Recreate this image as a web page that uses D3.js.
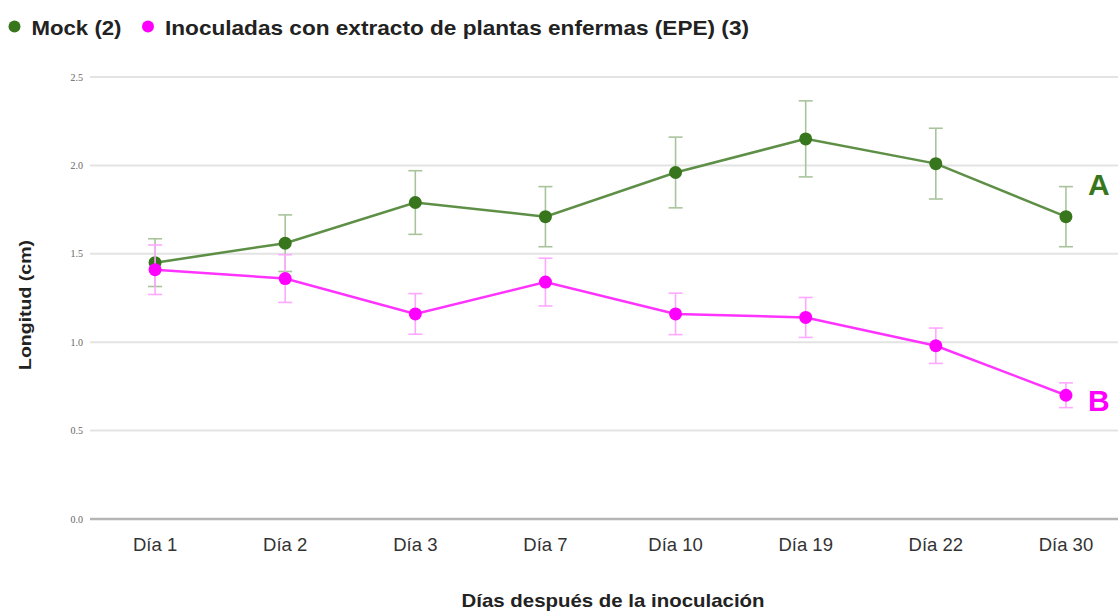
<!DOCTYPE html>
<html>
<head>
<meta charset="utf-8">
<script src="https://cdn.jsdelivr.net/npm/d3@7"></script>
<style>
  html, body { margin: 0; padding: 0; background: #fff; }
  svg { display: block; }
</style>
</head>
<body>
<svg id="chart" width="1118" height="612"></svg>
<script>
// Days after inoculation
const categories = ["Día 1", "Día 2", "Día 3", "Día 7", "Día 10", "Día 19", "Día 22", "Día 30"];

// Mean stem length (cm) and error
const mockValues = [1.45, 1.56, 1.79, 1.71, 1.96, 2.15, 2.01, 1.71];
const mockErrors = [0.135, 0.16, 0.18, 0.17, 0.2, 0.215, 0.2, 0.17];
const epeValues  = [1.41, 1.36, 1.16, 1.34, 1.16, 1.14, 0.98, 0.70];
const epeErrors  = [0.14, 0.135, 0.115, 0.135, 0.117, 0.113, 0.10, 0.07];

const yTicks = [0, 0.5, 1.0, 1.5, 2.0, 2.5];

const seriesNames = ["Mock (2)", "Inoculadas con extracto de plantas enfermas (EPE) (3)"];
const groupLetters = ["A", "B"];

const series = [
  { name: seriesNames[0], values: mockValues, errors: mockErrors, letter: groupLetters[0],
    dot: "#38761d", line: "#5e8f46", err: "#a9c49c" },
  { name: seriesNames[1], values: epeValues, errors: epeErrors, letter: groupLetters[1],
    dot: "#ff00ff", line: "#ff33ff", err: "#ffa8ff" }
];

const svg = d3.select("#chart");
const plotLeft = 90, plotRight = 1131, plotTop = 77, plotBottom = 519;
const sans = "'Liberation Sans', Arial, sans-serif";

const x = d3.scalePoint().domain(categories).range([plotLeft, plotRight]).padding(0.5);
const y = d3.scaleLinear().domain([0, 2.5]).range([plotBottom, plotTop]);

// Gridlines
svg.append("g")
  .selectAll("line")
  .data(yTicks.filter(d => d > 0))
  .join("line")
  .attr("x1", plotLeft).attr("x2", 1118)
  .attr("y1", d => y(d)).attr("y2", d => y(d))
  .attr("stroke", "#e3e3e3").attr("stroke-width", 2);

// Baseline
svg.append("line")
  .attr("x1", plotLeft).attr("x2", 1118)
  .attr("y1", y(0)).attr("y2", y(0))
  .attr("stroke", "#b5b5b5").attr("stroke-width", 2.5);

// Y axis labels
svg.append("g")
  .selectAll("text")
  .data(yTicks)
  .join("text")
  .attr("x", 83).attr("y", d => y(d) + 3.5)
  .attr("text-anchor", "end")
  .attr("font-family", "'Liberation Serif', 'DejaVu Serif', serif")
  .attr("font-size", 10)
  .attr("fill", "#666")
  .text(d => d.toFixed(1));

// X axis labels
svg.append("g")
  .selectAll("text")
  .data(categories)
  .join("text")
  .attr("x", d => x(d)).attr("y", 551)
  .attr("text-anchor", "middle")
  .attr("font-family", sans)
  .attr("font-size", 18.5)
  .attr("fill", "#333")
  .text(d => d);

// Axis titles
svg.append("text")
  .attr("x", 613).attr("y", 607)
  .attr("text-anchor", "middle")
  .attr("font-family", sans)
  .attr("font-weight", "bold")
  .attr("font-size", 19)
  .attr("textLength", 303)
  .attr("lengthAdjust", "spacingAndGlyphs")
  .attr("fill", "#222")
  .text("Días después de la inoculación");

svg.append("text")
  .attr("transform", "translate(31,305) rotate(-90)")
  .attr("text-anchor", "middle")
  .attr("font-family", sans)
  .attr("font-weight", "bold")
  .attr("font-size", 17)
  .attr("textLength", 130)
  .attr("lengthAdjust", "spacingAndGlyphs")
  .attr("fill", "#222")
  .text("Longitud (cm)");

const line = d3.line()
  .x((d, i) => x(categories[i]))
  .y(d => y(d));

series.forEach(s => {
  const g = svg.append("g");
  // error bars
  const eb = g.append("g").attr("stroke", s.err).attr("stroke-width", 1.6);
  s.values.forEach((v, i) => {
    const cx = x(categories[i]);
    const e = s.errors[i];
    eb.append("line").attr("x1", cx).attr("x2", cx).attr("y1", y(v + e)).attr("y2", y(v - e));
    eb.append("line").attr("x1", cx - 7).attr("x2", cx + 7).attr("y1", y(v + e)).attr("y2", y(v + e));
    eb.append("line").attr("x1", cx - 7).attr("x2", cx + 7).attr("y1", y(v - e)).attr("y2", y(v - e));
  });
  g.append("path")
    .datum(s.values)
    .attr("d", line)
    .attr("fill", "none")
    .attr("stroke", s.line)
    .attr("stroke-width", 2.5);
  g.selectAll("circle")
    .data(s.values)
    .join("circle")
    .attr("cx", (d, i) => x(categories[i]))
    .attr("cy", d => y(d))
    .attr("r", 6.5)
    .attr("fill", s.dot);
  const last = s.values.length - 1;
  g.append("text")
    .attr("x", x(categories[last]) + 22)
    .attr("y", y(s.values[last]) - (s.letter === "A" ? 22 : -16))
    .attr("font-family", sans)
    .attr("font-weight", "bold")
    .attr("font-size", 30)
    .attr("fill", s.dot)
    .text(s.letter);
});

// Legend
const legend = svg.append("g");
const legendX = [14.5, 148];
const legendW = [90, 584];
series.forEach((s, i) => {
  legend.append("circle").attr("cx", legendX[i]).attr("cy", 26.5).attr("r", 6).attr("fill", s.dot);
  legend.append("text")
    .attr("x", legendX[i] + 17).attr("y", 35)
    .attr("font-family", sans)
    .attr("font-weight", "bold")
    .attr("font-size", 21)
    .attr("textLength", legendW[i])
    .attr("lengthAdjust", "spacingAndGlyphs")
    .attr("fill", "#222")
    .text(s.name);
});
</script>
</body>
</html>
